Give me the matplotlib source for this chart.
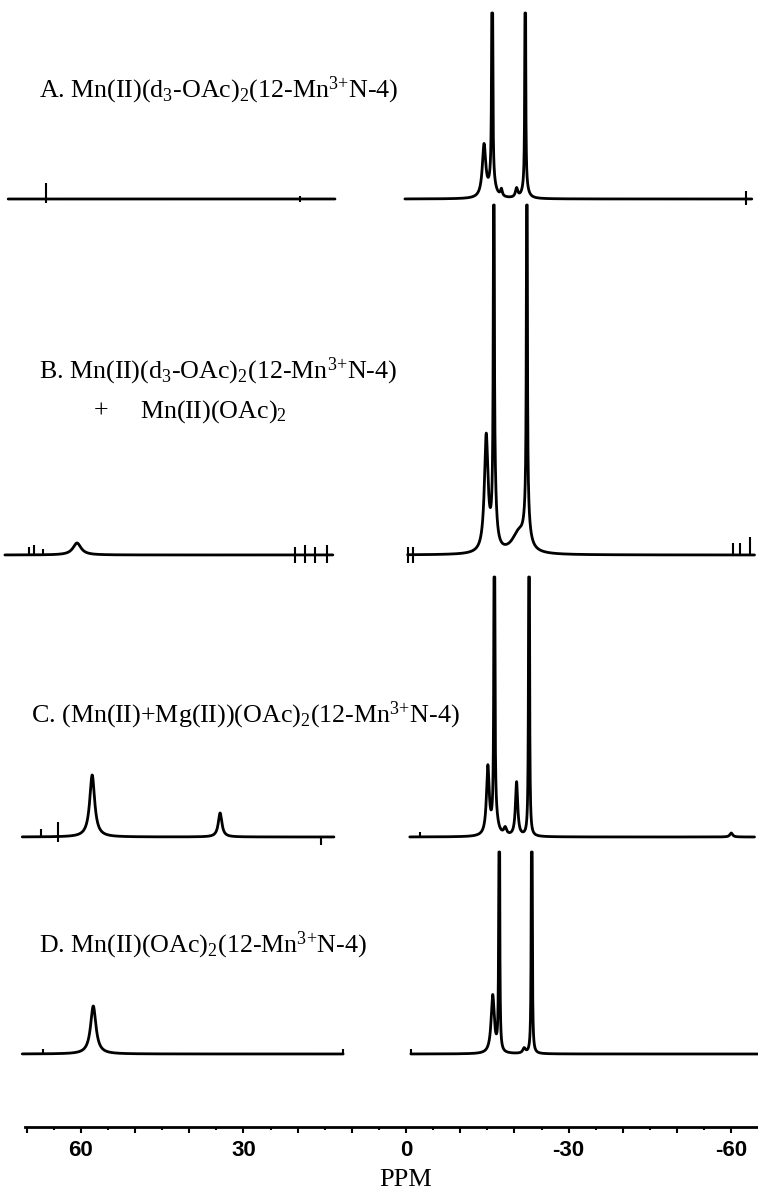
import numpy as np
import matplotlib
matplotlib.use("Agg")
import matplotlib.pyplot as plt
from matplotlib.ticker import MultipleLocator, FuncFormatter

plt.rcParams['font.family'] = ['Liberation Serif', 'DejaVu Serif']
plt.rcParams['mathtext.default'] = 'regular'
plt.rcParams['axes.unicode_minus'] = False

# ---- data (ppm, peak height, half width) ----
labels = [r"A. Mn(II)(d$_3$-OAc)$_2$(12-Mn$^{3{+}}$N-4)",
          r"B. Mn(II)(d$_3$-OAc)$_2$(12-Mn$^{3{+}}$N-4)",
          r"C. (Mn(II)+Mg(II))(OAc)$_2$(12-Mn$^{3{+}}$N-4)",
          r"D. Mn(II)(OAc)$_2$(12-Mn$^{3{+}}$N-4)"]
label_b2 = r"Mn(II)(OAc)$_2$"

# spectrum segments (ppm start, ppm end)
left_ranges = [(73.4, 13.1), (74.0, 13.5), (70.8, 13.3), (70.8, 11.6)]
right_ranges = [(0.2, -63.8), (-0.3, -64.3), (-0.7, -64.3), (-0.9, -64.9)]

a_ppm = [-14.4, -15.9, -15.9, -17.6, -20.4, -22.0, -22.0]
a_height = [52, 600, 18, 7, 9, 600, 14]
a_width = [0.38, 0.06, 0.6, 0.2, 0.25, 0.05, 0.5]
a_spike_ppm = [66.4, 19.5, -62.7]
a_spike_up = [16, 3, 8]
a_spike_down = [4, 3, 6]

b_ppm = [60.7, -14.8, -16.2, -16.3, -20.8, -22.3, -22.3]
b_height = [12, 115, 600, 60, 20, 600, 40]
b_width = [0.9, 0.4, 0.07, 0.4, 1.5, 0.07, 0.5]
b_spike_ppm = [69.5, 68.6, 67.0, 20.5, 18.7, 16.8, 14.6, -0.4, -1.3, -60.3, -61.6, -63.4]
b_spike_up = [8, 10, 6, 8, 10, 8, 10, 8, 8, 12, 12, 18]
b_spike_down = [0, 0, 0, 8, 8, 8, 8, 8, 8, 0, 0, 0]

c_ppm = [57.9, 34.3, -15.1, -16.3, -16.5, -18.3, -20.4, -22.7, -60.0]
c_height = [62, 24, 68, 600, 18, 7, 54, 600, 4]
c_width = [0.55, 0.4, 0.3, 0.07, 0.5, 0.3, 0.25, 0.07, 0.3]
c_spike_ppm = [67.3, 64.2, 15.7, -2.6]
c_spike_up = [8, 15, 0, 5]
c_spike_down = [0, 5, 8, 0]

d_ppm = [57.7, -16.0, -17.2, -21.8, -23.2]
d_height = [48, 58, 600, 5, 600]
d_width = [0.6, 0.35, 0.06, 0.3, 0.06]
d_spike_ppm = [67.0, 11.7, -0.9]
d_spike_up = [5, 5, 5]
d_spike_down = [0, 0, 0]

tick_major = 10
tick_minor = 5

# ---- layout (figure pixel units, y measured upward) ----
W, H = 758, 1191
baselines = [992, 636, 354, 137]
caps = [1178, 986, 614, 339]
axis_y = 64


def spectrum(x, pos, height, width):
    y = np.zeros_like(x)
    for p, h, w in zip(pos, height, width):
        y += h / (1 + ((x - p) / w) ** 2)
    return y


fig = plt.figure(figsize=(W / 100, H / 100), dpi=100)
ax = fig.add_axes([0, 0, 1, 1])
ax.set_xlim(406 / 5.42, -(W - 406) / 5.42)
ax.set_ylim(0, H)

traces = [(a_ppm, a_height, a_width, a_spike_ppm, a_spike_up, a_spike_down),
          (b_ppm, b_height, b_width, b_spike_ppm, b_spike_up, b_spike_down),
          (c_ppm, c_height, c_width, c_spike_ppm, c_spike_up, c_spike_down),
          (d_ppm, d_height, d_width, d_spike_ppm, d_spike_up, d_spike_down)]

for i, (pos, hgt, wid, sp, su, sd) in enumerate(traces):
    base = baselines[i]
    for lo, hi in (left_ranges[i], right_ranges[i]):
        x = np.linspace(lo, hi, 9000)
        y = base + np.minimum(spectrum(x, pos, hgt, wid), caps[i] - base)
        ax.plot(x, y, color='black', lw=2.0, solid_capstyle='round')
    ax.vlines(sp, [base - d for d in sd], [base + u for u in su],
              color='black', lw=1.5)

# labels
label_xy = [(39, 1094), (39, 813), (31, 469), (39, 239)]
for (lx, ly), txt in zip(label_xy, labels):
    fig.text(lx / W, ly / H, txt, fontsize=18.7, va='baseline', ha='left')
fig.text(94 / W, 773 / H, "+", fontsize=18.7, va='baseline', ha='left')
fig.text(140 / W, 773 / H, label_b2, fontsize=18.7, va='baseline', ha='left')

# ppm scale
for s in ['left', 'right', 'top']:
    ax.spines[s].set_visible(False)
ax.spines['bottom'].set_position(('data', axis_y))
ax.spines['bottom'].set_bounds(70.3, ax.get_xlim()[1])
ax.spines['bottom'].set_linewidth(2)
ax.yaxis.set_visible(False)
ax.xaxis.set_major_locator(MultipleLocator(tick_major))
ax.xaxis.set_minor_locator(MultipleLocator(tick_minor))
ax.xaxis.set_major_formatter(FuncFormatter(
    lambda v, _: str(int(round(v))) if int(round(v)) % 30 == 0 else ""))
ax.tick_params(axis='x', which='major', length=4.5, width=1.5, pad=5,
               labelsize=16)
ax.tick_params(axis='x', which='minor', length=2.5, width=1.5)
plt.setp(ax.get_xticklabels(), fontfamily='Liberation Sans', fontweight='bold')
fig.text(406 / W, (H - 1180) / H, "PPM", fontsize=19, ha='center', va='center')

fig.savefig("out.png", dpi=100)
